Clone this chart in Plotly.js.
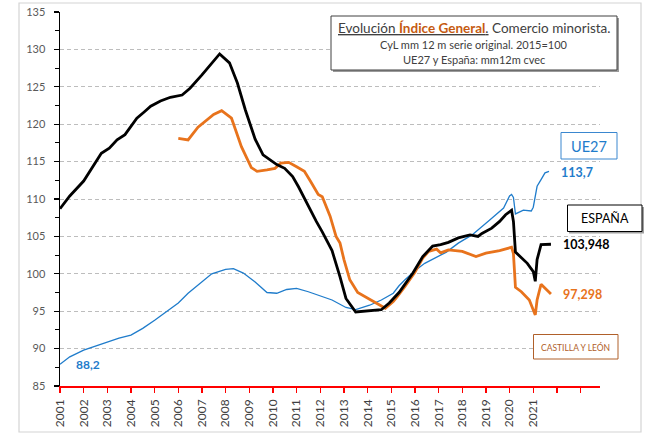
<!DOCTYPE html>
<html>
<head>
<meta charset="utf-8">
<script src="https://cdn.plot.ly/plotly-3.0.1.min.js"></script>
<style>html,body{margin:0;padding:0;background:#fff;}#chart{width:645px;height:434px;}</style>
</head>
<body>
<div id="chart"></div>
<script>
// ---- Data ----
const spainDates = ['2001-01','2001-06','2002-01','2002-07','2002-10','2003-02','2003-06','2003-10','2004-04','2004-08','2004-11','2005-04','2005-09','2006-03','2006-07','2007-01','2007-06','2007-10','2008-03','2008-07','2008-11','2009-04','2009-08','2010-03','2010-07','2010-11','2011-02','2011-07','2011-11','2012-02','2012-07','2012-11','2013-02','2013-07','2014-02','2014-08','2014-12','2015-05','2015-12','2016-05','2016-10','2017-02','2017-06','2017-11','2018-05','2018-09','2018-11','2019-04','2019-08','2019-11','2020-02','2020-03','2020-04','2020-07','2020-10','2021-01','2021-02','2021-03','2021-05','2021-10'];
const spainValues = [108.7,110.4,112.4,114.8,116.1,116.8,117.9,118.6,120.8,121.7,122.4,123.1,123.6,123.9,124.8,126.6,128.2,129.4,128.2,125.5,121.9,118.0,115.9,114.6,114.1,113.0,111.6,109.0,107.0,105.6,103.1,99.6,96.7,94.9,95.1,95.2,96.1,97.5,100.1,102.3,103.7,103.9,104.2,104.8,105.2,105.0,105.4,106.1,107.0,107.9,108.5,107.0,102.9,102.1,101.4,100.3,99.0,101.9,103.9,103.948];

const cylDates = ['2006-01','2006-06','2006-11','2007-04','2007-07','2007-11','2008-04','2008-06','2008-09','2009-02','2009-05','2009-10','2010-02','2010-05','2010-09','2011-01','2011-05','2011-08','2011-12','2012-02','2012-06','2012-09','2012-11','2013-01','2013-03','2013-04','2013-08','2014-02','2014-07','2014-10','2015-02','2015-04','2015-08','2016-01','2016-05','2016-08','2016-12','2017-02','2017-06','2018-01','2018-08','2019-01','2019-08','2020-02','2020-03','2020-04','2020-07','2020-11','2021-02','2021-03','2021-05','2021-07','2021-10'];
const cylValues = [118.1,117.9,119.6,120.7,121.3,121.8,120.8,119.3,117.0,114.2,113.7,113.9,114.1,114.8,114.9,114.3,113.7,112.4,110.6,110.3,107.7,105.0,104.1,101.9,100.1,99.2,97.5,96.6,95.8,95.4,96.3,96.9,98.3,100.2,102.1,103.0,103.3,102.8,103.2,103.0,102.3,102.75,103.1,103.55,102.7,98.2,97.6,96.5,94.5,96.5,98.6,98.1,97.298];

const ueDates = ['2001-01','2001-06','2002-01','2002-07','2003-01','2003-07','2004-01','2004-07','2005-01','2005-07','2006-01','2006-06','2007-01','2007-06','2008-01','2008-05','2008-10','2009-04','2009-10','2010-03','2010-08','2011-01','2011-07','2012-02','2012-07','2013-02','2013-07','2014-02','2014-08','2015-02','2015-05','2015-08','2016-01','2016-06','2017-01','2017-05','2017-11','2018-06','2019-03','2019-10','2020-01','2020-02','2020-03','2020-04','2020-08','2020-12','2021-01','2021-03','2021-05','2021-07','2021-09'];
const ueValues = [87.9,88.9,89.8,90.35,90.9,91.4,91.8,92.7,93.8,94.9,96.1,97.4,99.0,100.0,100.6,100.7,100.1,98.9,97.5,97.4,97.9,98.05,97.6,97.0,96.5,95.5,95.2,95.8,96.5,97.4,98.4,99.2,100.4,101.4,102.4,102.9,104.1,105.2,107.2,108.8,110.4,110.6,110.2,108.0,108.5,108.4,108.9,111.7,112.6,113.5,113.7];

const tickYears = ['2001','2002','2003','2004','2005','2006','2007','2008','2009','2010','2011','2012','2013','2014','2015','2016','2017','2018','2019','2020','2021','2022','2023'];
const tickLabels = ['2001','2002','2003','2004','2005','2006','2007','2008','2009','2010','2011','2012','2013','2014','2015','2016','2017','2018','2019','2020','2021','',''];

const endLabels = {ue:'113,7', spain:'103,948', cyl:'97,298', ueStart:'88,2'};
const seriesNames = {ue:'UE27', spain:'ESPAÑA', cyl:'CASTILLA Y LEÓN'};

// ---- helpers: pixel -> paper coordinates (plot area 60..600 x, 12..386 y) ----
const L = 60, R = 600, T = 12, B = 386;
const px = v => (v - L) / (R - L);
const py = v => (B - v) / (B - T);

const FONT = 'Lato, "Open Sans", sans-serif';
const BLUE = '#1F7CCB', ORANGE = '#E8731C', BROWN = '#B0602A';

const traces = [
  {x: ueDates, y: ueValues, type:'scatter', mode:'lines', name: seriesNames.ue,
   line:{color: BLUE, width:1.3}, hoverinfo:'skip'},
  {x: cylDates, y: cylValues, type:'scatter', mode:'lines', name: seriesNames.cyl,
   line:{color: ORANGE, width:2.8}, hoverinfo:'skip'},
  {x: spainDates, y: spainValues, type:'scatter', mode:'lines', name: seriesNames.spain,
   line:{color:'#000000', width:2.8}, hoverinfo:'skip'}
];

function rect(x0,y0,x1,y1,opts){
  return Object.assign({type:'rect', xref:'paper', yref:'paper', x0:px(x0), x1:px(x1), y0:py(y1), y1:py(y0), layer:'above'}, opts);
}

const shapes = [
  rect(19,3,641,432,{line:{color:'#D4D4D4', width:1.2}, fillcolor:'rgba(0,0,0,0)', layer:'below'}),
  // title box shadow + box
  rect(333,18,619,72,{line:{width:0}, fillcolor:'#9A9A9A'}),
  rect(331,16,617,70,{line:{color:'#404040', width:1}, fillcolor:'#FFFFFF'}),
  // UE27 box
  rect(561,132.5,617,159,{line:{color:'#3A87CF', width:1}, fillcolor:'#FFFFFF'}),
  // ESPAÑA box with shadow
  rect(569,207,644,233.5,{line:{width:0}, fillcolor:'#A0A0A0'}),
  rect(567.5,205,642,231.5,{line:{color:'#000000', width:1}, fillcolor:'#FFFFFF'}),
  // Castilla y León box
  rect(533.5,334.5,618,359,{line:{color:BROWN, width:1}, fillcolor:'#FFFFFF'})
];

function ann(text, xp, yp, size, color, extra){
  return Object.assign({text:text, xref:'paper', yref:'paper', x:px(xp), y:py(yp),
    showarrow:false, xanchor:'center', yanchor:'middle',
    font:{family:FONT, size:size, color:color}}, extra||{});
}

const annotations = [
  ann('<u>Evolución <b><span style="color:#C55A11">Índice General</span></b>.</u> Comercio minorista.', 474, 28.5, 13.5, '#404040'),
  ann('CyL mm 12 m serie original. 2015=100', 474, 44.5, 11, '#404040'),
  ann('UE27 y España: mm12m cvec', 474, 60, 11, '#404040'),
  ann(seriesNames.ue, 589, 146, 14.5, BLUE),
  ann(seriesNames.spain, 604.5, 218.5, 12.5, '#000000'),
  ann(seriesNames.cyl, 575.8, 347, 8.5, BROWN),
  {text:'<b>'+endLabels.ue+'</b>', x:'2022-02-01', y:113.6, xref:'x', yref:'y', showarrow:false, xanchor:'left', yanchor:'middle', font:{family:FONT, size:12.5, color:BLUE}},
  {text:'<b>'+endLabels.spain+'</b>', x:'2022-03-10', y:103.95, xref:'x', yref:'y', showarrow:false, xanchor:'left', yanchor:'middle', font:{family:FONT, size:12.5, color:'#000000'}},
  {text:'<b>'+endLabels.cyl+'</b>', x:'2022-03-10', y:97.2, xref:'x', yref:'y', showarrow:false, xanchor:'left', yanchor:'middle', font:{family:FONT, size:12.5, color:ORANGE}},
  {text:'<b>'+endLabels.ueStart+'</b>', x:'2001-08-01', y:87.85, xref:'x', yref:'y', showarrow:false, xanchor:'left', yanchor:'middle', font:{family:FONT, size:12, color:BLUE}}
];

const layout = {
  width:645, height:434,
  margin:{l:L, r:645-R, t:T, b:434-B, pad:0},
  paper_bgcolor:'#FFFFFF', plot_bgcolor:'#FFFFFF',
  showlegend:false,
  font:{family:FONT},
  xaxis:{
    type:'date', range:['2001-01-01','2023-10-28'],
    tickmode:'array', tickvals: tickYears.map(y => y + '-01-01'), ticktext: tickLabels,
    tickangle:-90, tickfont:{family:FONT, size:12, color:'#404040'},
    ticks:'outside', ticklen:5, tickwidth:1.3, tickcolor:'#FF0000',
    ticklabelstandoff:2,
    showline:true, linecolor:'#FF0000', linewidth:1.6,
    showgrid:false, zeroline:false, fixedrange:true
  },
  yaxis:{
    range:[85,135], dtick:5, tick0:85,
    tickfont:{family:FONT, size:11, color:'#595959'},
    ticks:'outside', ticklen:5, tickwidth:1.2, tickcolor:'#000000',
    ticklabelstandoff:6,
    minor:{dtick:2.5, ticks:'outside', ticklen:4, tickwidth:1, tickcolor:'#000000', showgrid:false},
    showline:true, linecolor:'#000000', linewidth:1.5,
    showgrid:true, gridcolor:'#BDBDBD', gridwidth:1, griddash:'4px,3px',
    zeroline:false, fixedrange:true
  },
  shapes: shapes,
  annotations: annotations
};

Plotly.newPlot('chart', traces, layout, {staticPlot:true, displayModeBar:false});
</script>
</body>
</html>
